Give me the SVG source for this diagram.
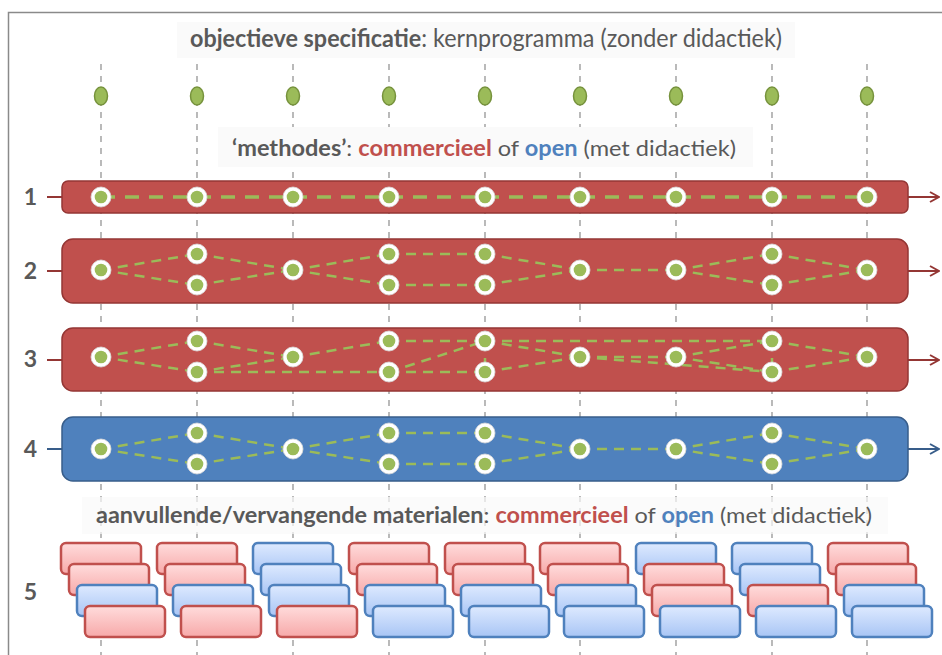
<svg xmlns="http://www.w3.org/2000/svg" width="942" height="655" viewBox="0 0 942 655">
<style>
  text { font-family: Lato, "Open Sans", "Liberation Sans", sans-serif; fill: #595959; }
  .num { font-size: 23px; font-weight: bold; text-anchor: middle; }
  .title { font-size: 22px; }
  .title.big { font-size: 25px; }
  .b { font-weight: bold; }
  .red { fill: #c0504d; font-weight: bold; }
  .blue { fill: #4f81bd; font-weight: bold; }
  .guide { stroke: #8c8c8c; stroke-width: 1.2; stroke-dasharray: 6 6; fill: none; }
  .barR { fill: #c0504d; stroke: #943634; stroke-width: 1.5; }
  .barB { fill: #4f81bd; stroke: #385d8a; stroke-width: 1.5; }
  .tickR { stroke: #943634; stroke-width: 2; fill: none; }
  .tickB { stroke: #385d8a; stroke-width: 2; fill: none; }
  .edge { stroke: #9bbb59; stroke-width: 2.5; stroke-dasharray: 10 7; fill: none; }
  .edge1 { stroke: #9bbb59; stroke-width: 3.5; stroke-dasharray: 14 10; fill: none; }
  .ring { fill: #ffffff; stroke: #d9d9d9; stroke-width: 0.8; }
  .core { fill: #9bbb59; }
  .top { fill: #9bbb59; stroke: #76923c; stroke-width: 1.5; }
  .mr { fill: url(#gr); stroke: #c0504d; stroke-width: 2.5; }
  .mb { fill: url(#gb); stroke: #4f81bd; stroke-width: 2.5; }
  .tbox { fill: #fafafa; }
</style>
<defs>
  <linearGradient id="gr" x1="0" y1="0" x2="0" y2="1">
    <stop offset="0" stop-color="#ffdcdc"/>
    <stop offset="1" stop-color="#f7a9a9"/>
  </linearGradient>
  <linearGradient id="gb" x1="0" y1="0" x2="0" y2="1">
    <stop offset="0" stop-color="#deeaff"/>
    <stop offset="1" stop-color="#a8c5f5"/>
  </linearGradient>
  <marker id="arrR" viewBox="0 0 12 12" refX="11" refY="6" markerWidth="12" markerHeight="12" markerUnits="userSpaceOnUse" orient="auto">
    <path d="M2 1 L11 6 L2 11" fill="none" stroke="#943634" stroke-width="2"/>
  </marker>
  <marker id="arrB" viewBox="0 0 12 12" refX="11" refY="6" markerWidth="12" markerHeight="12" markerUnits="userSpaceOnUse" orient="auto">
    <path d="M2 1 L11 6 L2 11" fill="none" stroke="#385d8a" stroke-width="2"/>
  </marker>
  <g id="nd"><circle r="10" class="ring"/><circle r="6.3" class="core"/></g>
</defs>

<rect width="942" height="655" fill="#ffffff"/>
<path d="M8.5 655 V12.5 H942" fill="none" stroke="#8a8a8a" stroke-width="1.5"/>

<!-- vertical guides -->
<g id="guides">
  <line class="guide" x1="101" y1="64" x2="101" y2="655"/>
  <line class="guide" x1="197" y1="64" x2="197" y2="655"/>
  <line class="guide" x1="293" y1="64" x2="293" y2="655"/>
  <line class="guide" x1="389" y1="64" x2="389" y2="655"/>
  <line class="guide" x1="485" y1="64" x2="485" y2="655"/>
  <line class="guide" x1="580" y1="64" x2="580" y2="655"/>
  <line class="guide" x1="676" y1="64" x2="676" y2="655"/>
  <line class="guide" x1="772" y1="64" x2="772" y2="655"/>
  <line class="guide" x1="867" y1="64" x2="867" y2="655"/>
</g>

<!-- titles -->
<g id="title1">
  <rect class="tbox" x="177" y="22" width="618" height="36"/>
  <text class="title big" x="190" y="47" textLength="592" lengthAdjust="spacingAndGlyphs"><tspan class="b">objectieve specificatie</tspan>: kernprogramma (zonder didactiek)</text>
</g>
<g id="title2">
  <rect class="tbox" x="218" y="127" width="535" height="40"/>
  <text class="title" x="232" y="156" textLength="504" lengthAdjust="spacingAndGlyphs"><tspan class="b">&#8216;methodes&#8217;</tspan>: <tspan class="red">commercieel</tspan> of <tspan class="blue">open</tspan> (met didactiek)</text>
</g>
<g id="title3">
  <rect class="tbox" x="82" y="497" width="806" height="37" opacity="0.7"/>
  <text class="title" x="96" y="523" textLength="776" lengthAdjust="spacingAndGlyphs"><tspan class="b">aanvullende/vervangende materialen</tspan>: <tspan class="red">commercieel</tspan> of <tspan class="blue">open</tspan> (met didactiek)</text>
</g>

<!-- top objective dots -->
<g id="objectives">
  <ellipse class="top" cx="101" cy="96" rx="6.5" ry="9"/>
  <ellipse class="top" cx="197" cy="96" rx="6.5" ry="9"/>
  <ellipse class="top" cx="293" cy="96" rx="6.5" ry="9"/>
  <ellipse class="top" cx="389" cy="96" rx="6.5" ry="9"/>
  <ellipse class="top" cx="485" cy="96" rx="6.5" ry="9"/>
  <ellipse class="top" cx="580" cy="96" rx="6.5" ry="9"/>
  <ellipse class="top" cx="676" cy="96" rx="6.5" ry="9"/>
  <ellipse class="top" cx="772" cy="96" rx="6.5" ry="9"/>
  <ellipse class="top" cx="867" cy="96" rx="6.5" ry="9"/>
</g>

<!-- bars -->
<g id="bar1">
  <text class="num" x="30.5" y="205">1</text>
  <line class="tickR" x1="47" y1="197" x2="62" y2="197"/>
  <rect class="barR" x="62" y="181" width="846" height="32" rx="6"/>
</g>
<g id="bar2">
  <text class="num" x="30.5" y="279">2</text>
  <line class="tickR" x1="47" y1="271" x2="62" y2="271"/>
  <rect class="barR" x="62" y="239" width="846" height="64" rx="11"/>
</g>
<g id="bar3">
  <text class="num" x="30.5" y="367">3</text>
  <line class="tickR" x1="47" y1="360" x2="62" y2="360"/>
  <rect class="barR" x="62" y="328" width="846" height="63" rx="11"/>
</g>
<g id="bar4">
  <text class="num" x="30.5" y="457">4</text>
  <line class="tickB" x1="47" y1="449" x2="62" y2="449"/>
  <rect class="barB" x="62" y="417" width="846" height="64" rx="11"/>
</g>

<!-- connectors -->
<g id="connectors">
  <line class="tickR" x1="908" y1="197" x2="939" y2="197" marker-end="url(#arrR)"/>
  <line class="tickR" x1="908" y1="271" x2="939" y2="271" marker-end="url(#arrR)"/>
  <line class="tickR" x1="908" y1="360" x2="939" y2="360" marker-end="url(#arrR)"/>
  <line class="tickB" x1="908" y1="449" x2="939" y2="449" marker-end="url(#arrB)"/>

  <!-- path 1 -->
  <line class="edge1" x1="101" y1="197" x2="867" y2="197"/>

  <!-- path 2 -->
  <path class="edge" d="M101 270 L197 254 M101 270 L197 285 M197 254 L293 270 M197 285 L293 270 M293 270 L389 254 M293 270 L389 285 M389 254 L485 254 M389 285 L485 285 M485 254 L580 270 M485 285 L580 270 M580 270 L676 270 M676 270 L772 254 M676 270 L772 285 M772 254 L867 270 M772 285 L867 270"/>

  <!-- path 3 -->
  <path class="edge" d="M101 357 L197 341 M101 357 L197 372 M197 341 L293 357 M197 372 L293 357 M197 372 L389 372 M293 357 L389 341 M389 341 L485 341 M389 372 L485 341 M389 372 L485 372 M485 341 L485 372 M485 341 L772 341 M485 341 L580 357 M485 372 L580 357 M580 357 L676 357 M580 357 L772 372 M676 357 L772 341 M676 357 L772 372 M772 341 L772 372 M772 341 L867 357 M772 372 L867 357"/>

  <!-- path 4 -->
  <path class="edge" d="M101 449 L197 433 M101 449 L197 464 M197 433 L293 449 M197 464 L293 449 M293 449 L389 433 M293 449 L389 464 M389 433 L485 433 M389 464 L485 464 M485 433 L580 449 M485 464 L580 449 M580 449 L676 449 M676 449 L772 433 M676 449 L772 464 M772 433 L867 449 M772 464 L867 449"/>
</g>

<!-- nodes -->
<g id="nodes1">
  <use href="#nd" x="101" y="197"/><use href="#nd" x="197" y="197"/><use href="#nd" x="293" y="197"/>
  <use href="#nd" x="389" y="197"/><use href="#nd" x="485" y="197"/><use href="#nd" x="580" y="197"/>
  <use href="#nd" x="676" y="197"/><use href="#nd" x="772" y="197"/><use href="#nd" x="867" y="197"/>
</g>
<g id="nodes2">
  <use href="#nd" x="101" y="270"/><use href="#nd" x="197" y="254"/><use href="#nd" x="197" y="285"/>
  <use href="#nd" x="293" y="270"/><use href="#nd" x="389" y="254"/><use href="#nd" x="389" y="285"/>
  <use href="#nd" x="485" y="254"/><use href="#nd" x="485" y="285"/><use href="#nd" x="580" y="270"/>
  <use href="#nd" x="676" y="270"/><use href="#nd" x="772" y="254"/><use href="#nd" x="772" y="285"/>
  <use href="#nd" x="867" y="270"/>
</g>
<g id="nodes3">
  <use href="#nd" x="101" y="357"/><use href="#nd" x="197" y="341"/><use href="#nd" x="197" y="372"/>
  <use href="#nd" x="293" y="357"/><use href="#nd" x="389" y="341"/><use href="#nd" x="389" y="372"/>
  <use href="#nd" x="485" y="341"/><use href="#nd" x="485" y="372"/><use href="#nd" x="580" y="357"/>
  <use href="#nd" x="676" y="357"/><use href="#nd" x="772" y="341"/><use href="#nd" x="772" y="372"/>
  <use href="#nd" x="867" y="357"/>
</g>
<g id="nodes4">
  <use href="#nd" x="101" y="449"/><use href="#nd" x="197" y="433"/><use href="#nd" x="197" y="464"/>
  <use href="#nd" x="293" y="449"/><use href="#nd" x="389" y="433"/><use href="#nd" x="389" y="464"/>
  <use href="#nd" x="485" y="433"/><use href="#nd" x="485" y="464"/><use href="#nd" x="580" y="449"/>
  <use href="#nd" x="676" y="449"/><use href="#nd" x="772" y="433"/><use href="#nd" x="772" y="464"/>
  <use href="#nd" x="867" y="449"/>
</g>

<!-- row 5: materials -->
<g id="materials">
  <text class="num" x="30.5" y="600">5</text>
  <g id="m0">
    <rect class="mr" x="61" y="543" width="80" height="31" rx="5"/>
    <rect class="mr" x="69" y="564" width="80" height="31" rx="5"/>
    <rect class="mb" x="77" y="585" width="80" height="31" rx="5"/>
    <rect class="mr" x="85" y="606" width="80" height="31" rx="5"/>
  </g>
  <g id="m1">
    <rect class="mr" x="157" y="543" width="80" height="31" rx="5"/>
    <rect class="mr" x="165" y="564" width="80" height="31" rx="5"/>
    <rect class="mb" x="173" y="585" width="80" height="31" rx="5"/>
    <rect class="mr" x="181" y="606" width="80" height="31" rx="5"/>
  </g>
  <g id="m2">
    <rect class="mb" x="253" y="543" width="80" height="31" rx="5"/>
    <rect class="mb" x="261" y="564" width="80" height="31" rx="5"/>
    <rect class="mb" x="269" y="585" width="80" height="31" rx="5"/>
    <rect class="mr" x="277" y="606" width="80" height="31" rx="5"/>
  </g>
  <g id="m3">
    <rect class="mr" x="349" y="543" width="80" height="31" rx="5"/>
    <rect class="mr" x="357" y="564" width="80" height="31" rx="5"/>
    <rect class="mb" x="365" y="585" width="80" height="31" rx="5"/>
    <rect class="mb" x="373" y="606" width="80" height="31" rx="5"/>
  </g>
  <g id="m4">
    <rect class="mr" x="445" y="543" width="80" height="31" rx="5"/>
    <rect class="mr" x="453" y="564" width="80" height="31" rx="5"/>
    <rect class="mb" x="461" y="585" width="80" height="31" rx="5"/>
    <rect class="mb" x="469" y="606" width="80" height="31" rx="5"/>
  </g>
  <g id="m5">
    <rect class="mr" x="540" y="543" width="80" height="31" rx="5"/>
    <rect class="mr" x="548" y="564" width="80" height="31" rx="5"/>
    <rect class="mb" x="556" y="585" width="80" height="31" rx="5"/>
    <rect class="mb" x="564" y="606" width="80" height="31" rx="5"/>
  </g>
  <g id="m6">
    <rect class="mb" x="636" y="543" width="80" height="31" rx="5"/>
    <rect class="mr" x="644" y="564" width="80" height="31" rx="5"/>
    <rect class="mr" x="652" y="585" width="80" height="31" rx="5"/>
    <rect class="mb" x="660" y="606" width="80" height="31" rx="5"/>
  </g>
  <g id="m7">
    <rect class="mb" x="732" y="543" width="80" height="31" rx="5"/>
    <rect class="mb" x="740" y="564" width="80" height="31" rx="5"/>
    <rect class="mr" x="748" y="585" width="80" height="31" rx="5"/>
    <rect class="mb" x="756" y="606" width="80" height="31" rx="5"/>
  </g>
  <g id="m8">
    <rect class="mr" x="828" y="543" width="80" height="31" rx="5"/>
    <rect class="mr" x="836" y="564" width="80" height="31" rx="5"/>
    <rect class="mb" x="844" y="585" width="80" height="31" rx="5"/>
    <rect class="mb" x="852" y="606" width="80" height="31" rx="5"/>
  </g>
</g>
</svg>
